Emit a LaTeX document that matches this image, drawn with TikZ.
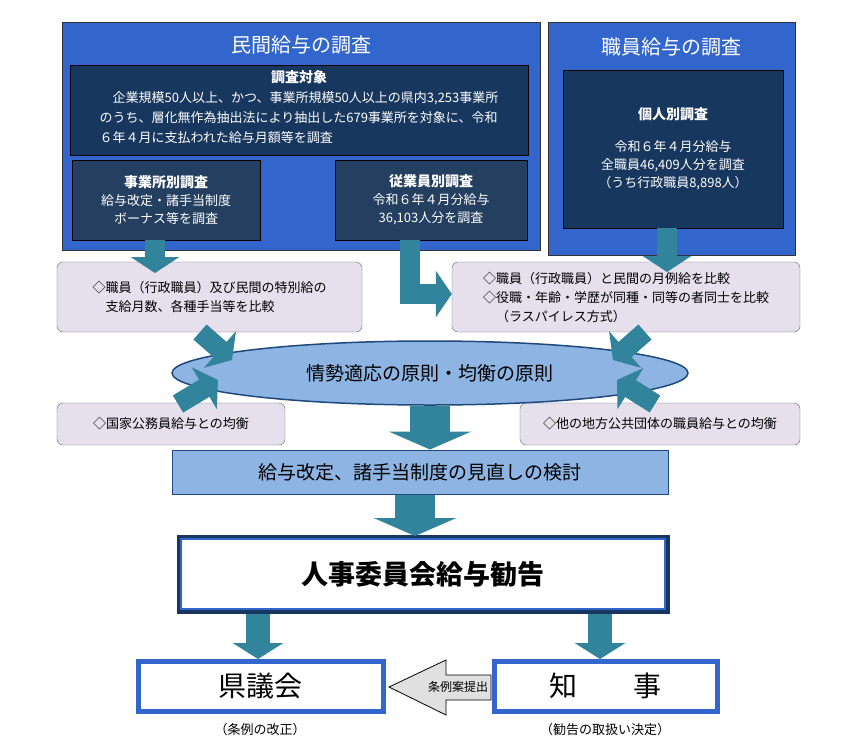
\documentclass[tikz,border=0pt]{standalone}
\usepackage{fontspec}
\setmainfont{Noto Sans CJK JP}
\usetikzlibrary{arrows.meta,positioning,shapes.geometric}
\definecolor{bigblue}{HTML}{3366CC}
\definecolor{navy}{HTML}{17375E}
\definecolor{subnavy}{HTML}{243F60}
\definecolor{teal}{HTML}{31849B}
\definecolor{lav}{HTML}{E6E0EC}
\definecolor{lblue}{HTML}{8DB4E2}
\definecolor{dkblue}{HTML}{1F497D}
\tikzset{
    outerbox/.style={draw=black!80,fill=bigblue,inner sep=0pt},
    darkbox/.style={draw=black,fill=#1,text=white,align=center,inner sep=2pt,font=\fontsize{13}{18}\selectfont},
    notebox/.style={draw=black!60,fill=lav,rounded corners=6pt,align=left,inner sep=4pt,font=\fontsize{13}{19}\selectfont},
    resultbox/.style={draw=bigblue,line width=5pt,fill=white,inner sep=0pt},
    blk/.style={line width=20pt,draw=teal,-{Triangle[length=16pt,width=48pt]}},
    bigblk/.style={line width=40pt,draw=teal,-{Triangle[length=18pt,width=82pt]}},
}
\begin{document}
\begin{tikzpicture}[x=1pt,y=-1pt]
\useasboundingbox (0,0) rectangle (858,755);
%% survey boxes
\node[outerbox,minimum width=478pt,minimum height=228pt] (priv) at (301,136) {};
\node[outerbox,minimum width=247pt,minimum height=233pt] (staff) at (671.5,138.5) {};
\node[text=white,font=\fontsize{20}{22}\selectfont] (privT) at (301,45) {民間給与の調査};
\node[text=white,font=\fontsize{20}{22}\selectfont] (staffT) at (671.5,47) {職員給与の調査};
\node[darkbox=navy,minimum width=458pt,minimum height=90pt,align=left] (target) at (299,110) {};
\node[text=white,font=\bfseries\fontsize{14}{16}\selectfont] at (299,77) {調査対象};
\node[text=white,align=left,font=\fontsize{13}{20}\selectfont] (targetT) at (299,118)
  {\hspace*{1em}企業規模50人以上、かつ、事業所規模50人以上の県内3,253事業所\\
   のうち、層化無作為抽出法により抽出した679事業所を対象に、令和\\
   ６年４月に支払われた給与月額等を調査};
\node[darkbox=subnavy,minimum width=188pt,minimum height=80pt] (office) at (166,200)
  {{\bfseries\fontsize{14}{20}\selectfont 事業所別調査}\\給与改定・諸手当制度\\ボーナス等を調査};
\node[darkbox=subnavy,minimum width=192pt,minimum height=80pt] (worker) at (431,200)
  {{\bfseries\fontsize{14}{20}\selectfont 従業員別調査}\\令和６年４月分給与\\36,103人分を調査};
\node[darkbox=navy,minimum width=220pt,minimum height=158pt] (person) at (673,149)
  {{\bfseries\fontsize{14}{20}\selectfont 個人別調査}\\[14pt]令和６年４月分給与\\全職員46,409人分を調査\\（うち行政職員8,898人）};
%% comparison notes
\node[notebox,minimum width=305pt,minimum height=70pt] (noteL) at (209.5,297)
  {◇職員（行政職員）及び民間の特別給の\\\hspace*{1em}支給月数、各種手当等を比較};
\node[notebox,minimum width=348pt,minimum height=70pt] (noteR) at (626,297)
  {◇職員（行政職員）と民間の月例給を比較\\◇役職・年齢・学歴が同種・同等の者同士を比較\\\hspace*{1em}（ラスパイレス方式）};
\node[notebox,minimum width=228pt,minimum height=42pt] (nation) at (171,424) {◇国家公務員給与との均衡};
\node[notebox,minimum width=280pt,minimum height=42pt] (local) at (660,424) {◇他の地方公共団体の職員給与との均衡};
%% principle and steps
\node[ellipse,draw=dkblue,line width=1.5pt,fill=lblue,minimum width=516pt,minimum height=64pt,font=\fontsize{19}{21}\selectfont] (principle) at (430,373) {情勢適応の原則・均衡の原則};
\node[draw=dkblue,line width=1pt,fill=lblue,minimum width=496pt,minimum height=44pt,font=\fontsize{19}{21}\selectfont] (review) at (420,472) {給与改定、諸手当制度の見直しの検討};
\node[draw=navy,line width=5pt,fill=white,minimum width=488pt,minimum height=74pt,font=\bfseries\fontsize{27}{29}\selectfont] (advice) at (423,574) {人事委員会給与勧告};
\draw[bigblue,line width=2pt] (advice.north west) ++(4.5pt,-4.5pt) rectangle ([shift={(-4.5pt,4.5pt)}]advice.south east);
\node[resultbox,minimum width=245pt,minimum height=50pt,font=\fontsize{28}{30}\selectfont] (council) at (260.5,686) {県議会};
\node[resultbox,minimum width=223pt,minimum height=50pt,font=\fontsize{28}{30}\selectfont] (governor) at (605.5,686) {知\hspace{2em}事};
\node[font=\fontsize{13}{15}\selectfont] (councilN) at (260,730) {（条例の改正）};
\node[font=\fontsize{13}{15}\selectfont] (governorN) at (605,730) {（勧告の取扱い決定）};
%% arrows
\draw[blk] (office.south -| 155,0) -- (155,273);
\draw[blk,-{Triangle[length=16pt,width=46pt]},line join=miter] (worker.south -| 410,0) -- (410,294) -- (noteR.west |- 0,294);
\draw[blk] (person.south -| 667,0) -- (667,272);
\draw[blk] (200,332) -- (232,360);
\draw[blk] (645,332) -- (613,360);
\draw[blk] (178,404) -- (218,380);
\draw[blk] (655,404) -- (617,380);
\draw[bigblk] (principle.south) -- (review.north -| principle.south);
\draw[bigblk] (review.south -| 415,0) -- (415,536);
\draw[blk,line width=24pt,-{Triangle[length=16pt,width=50pt]}] (advice.south -| 258,0) -- (258,659);
\draw[blk,line width=24pt,-{Triangle[length=16pt,width=50pt]}] (advice.south -| 600,0) -- (600,659);
\draw[draw=black,fill=black!12,line width=0.8pt] (491,675) -- (446,675) -- (446,660) -- (389,687) -- (446,715) -- (446,700) -- (491,700) -- cycle;
\node[font=\fontsize{12}{14}\selectfont] (submit) at (458,687) {条例案提出};
\end{tikzpicture}
\end{document}
